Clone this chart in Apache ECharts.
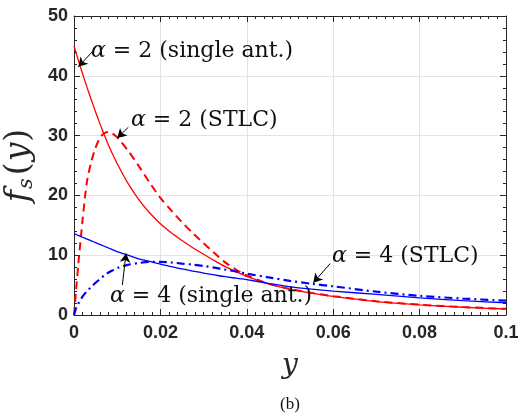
<!DOCTYPE html>
<html>
<head>
<meta charset="utf-8">
<script src="https://cdn.jsdelivr.net/npm/echarts@6/dist/echarts.min.js"></script>
<style>
html,body{margin:0;padding:0;background:#fff;}
#chart{width:520px;height:417px;}
</style>
</head>
<body>
<div id="chart"></div>
<script>
// ---- data ----
var xValues = [0, 0.0005, 0.001, 0.002, 0.003, 0.004, 0.005, 0.006, 0.007, 0.008, 0.009, 0.010, 0.0125, 0.015, 0.0175, 0.020, 0.0225, 0.025, 0.0275, 0.030, 0.0325, 0.035, 0.0375, 0.040, 0.045, 0.050, 0.055, 0.060, 0.070, 0.080, 0.090, 0.100];
var alpha2Single = [45.0, 43.8, 42.6, 40.3, 38.1, 36.0, 33.95, 32.0, 30.15, 28.4, 26.8, 25.3, 22.0, 19.3, 17.1, 15.25, 13.75, 12.45, 11.25, 10.15, 9.1, 8.1, 7.25, 6.45, 5.2, 4.3, 3.65, 3.1, 2.25, 1.7, 1.3, 1.0];
var alpha2STLC   = [0.0, 4.3, 8.5, 16.0, 22.3, 25.6, 28.0, 29.6, 30.4, 30.6, 30.3, 29.7, 27.5, 24.9, 22.15, 19.6, 17.5, 15.5, 13.7, 12.0, 10.35, 8.8, 7.6, 6.6, 5.25, 4.35, 3.7, 3.15, 2.3, 1.73, 1.33, 1.03];
var alpha4Single = [13.6, 13.45, 13.3, 13.0, 12.7, 12.4, 12.1, 11.8, 11.5, 11.2, 10.9, 10.6, 10.0, 9.4, 8.95, 8.5, 8.1, 7.7, 7.35, 7.0, 6.7, 6.4, 6.15, 5.9, 5.3, 4.7, 4.33, 4.0, 3.45, 2.85, 2.4, 2.05];
var alpha4STLC   = [0.0, 1.2, 1.9, 3.1, 4.0, 4.7, 5.4, 6.0, 6.6, 7.1, 7.5, 7.85, 8.38, 8.7, 8.88, 8.9, 8.78, 8.6, 8.42, 8.2, 7.92, 7.6, 7.27, 6.9, 6.3, 5.7, 5.22, 4.8, 3.9, 3.2, 2.75, 2.4];
var xTicks = [0, 0.02, 0.04, 0.06, 0.08, 0.1];
var yTicks = [0, 10, 20, 30, 40, 50];
var annotationTexts = ['2 (single ant.)', '2 (STLC)', '4 (single ant.)', '4 (STLC)'];
// arrows: [tail, tip] in data coordinates
var arrows = [
  [[0.00447, 44.2], [0.0010, 41.5]],
  [[0.01258, 31.4], [0.01003, 29.6]],
  [[0.01119, 5.0], [0.01205, 10.3]],
  [[0.0593, 8.6], [0.0554, 5.4]]
];

function pairs(ys){ return xValues.map(function(x,i){ return [x, ys[i]]; }); }

var chart = echarts.init(document.getElementById('chart'), null, {renderer:'canvas'});
var tickColor = '#262626';
var labelFont = {fontFamily:'Liberation Sans, Arial, sans-serif', fontWeight:'bold', fontSize:18, color:tickColor};
var mathFont = 'DejaVu Serif, serif';

function xAx(pos, show){
  return {
    type:'value', position:pos, min:xTicks[0], max:xTicks[xTicks.length-1], interval:0.02,
    axisLine:{show:true, onZero:false, lineStyle:{color:tickColor, width:1}},
    axisTick:{show:true, inside:true, length:6, lineStyle:{color:tickColor}},
    minorTick:{show:true, splitNumber:10, length:3, lineStyle:{color:tickColor}},
    axisLabel:Object.assign({show:show, margin:9}, labelFont),
    splitLine:{show:show, lineStyle:{color:'#e3e3e3', width:1}},
    name: show ? 'y' : '', nameLocation:'middle', nameGap:37,
    nameTextStyle:{fontFamily:mathFont, fontStyle:'italic', fontSize:28, color:tickColor}
  };
}
function yAx(pos, show){
  return {
    type:'value', position:pos, min:yTicks[0], max:yTicks[yTicks.length-1], interval:10,
    axisLine:{show:true, onZero:false, lineStyle:{color:tickColor, width:1}},
    axisTick:{show:true, inside:true, length:6, lineStyle:{color:tickColor}},
    minorTick:{show:true, splitNumber:5, length:3, lineStyle:{color:tickColor}},
    axisLabel:Object.assign({show:show, margin:6}, labelFont),
    splitLine:{show:show, lineStyle:{color:'#e3e3e3', width:1}},
    name: show ? '{f|f}{s|s}{p|(}{y|y}{p|)}' : '', nameLocation:'middle', nameGap:36, nameRotate:90,
    nameTextStyle:{
      color:tickColor,
      rich:{
        f:{fontFamily:mathFont, fontStyle:'italic', fontSize:33, color:tickColor, padding:[0,1,0,0]},
        s:{fontFamily:mathFont, fontStyle:'italic', fontSize:21, color:tickColor, verticalAlign:'bottom', padding:[14,3,0,0]},
        y:{fontFamily:mathFont, fontStyle:'italic', fontSize:33, color:tickColor, padding:[0,1,0,1]},
        p:{fontFamily:mathFont, fontSize:33, color:tickColor}
      }
    }
  };
}

var arrowData = arrows.map(function(a){ return [{coord:a[0]}, {coord:a[1]}]; });

var option = {
  animation:false,
  backgroundColor:'#fff',
  grid:{left:74, right:14, top:16, bottom:102, containLabel:false, outerBoundsMode:'none'},
  xAxis:[xAx('bottom', true), xAx('top', false)],
  yAxis:[yAx('left', true), yAx('right', false)],
  series:[
    {type:'line', name:'a2s', data:pairs(alpha2Single), showSymbol:false, smooth:0.3,
     lineStyle:{color:'#ff0000', width:1.3, type:'solid'}, z:3,
     markLine:{silent:true, symbol:['none','arrow'], symbolSize:[8,9], label:{show:false},
       lineStyle:{color:'#000', width:1, type:'solid'}, data:arrowData}},
    {type:'line', name:'a2t', data:pairs(alpha2STLC), showSymbol:false, smooth:0.3,
     lineStyle:{color:'#ff0000', width:2, type:[8,5]}, z:3},
    {type:'line', name:'a4s', data:pairs(alpha4Single), showSymbol:false, smooth:0.3,
     lineStyle:{color:'#0000ff', width:1.3, type:'solid'}, z:3},
    {type:'line', name:'a4t', data:pairs(alpha4STLC), showSymbol:false, smooth:0.3,
     lineStyle:{color:'#0000ff', width:2.2, type:[8,4,2,4]}, z:3}
  ]
};
chart.setOption(option);

function ann(x, y, rest){
  return {type:'text', left:x, top:y, z:100,
    style:{text:'{a|α} = ' + rest, font:'22px ' + mathFont, fill:'#111', textVerticalAlign:'middle',
      rich:{a:{fontStyle:'italic', fontFamily:mathFont, fontSize:22, fill:'#111'}}}};
}
chart.setOption({graphic:[
  ann(91, 40, annotationTexts[0]),
  ann(131, 109, annotationTexts[1]),
  ann(110, 285, annotationTexts[2]),
  ann(332, 245, annotationTexts[3]),
  {type:'text', left:280, top:396, style:{text:'(b)', font:'17px Liberation Serif, serif', fill:'#111'}}
]});
</script>
</body>
</html>
